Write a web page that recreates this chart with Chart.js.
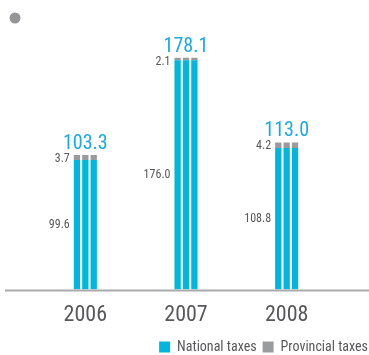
<!DOCTYPE html>
<html>
<head>
<meta charset="utf-8">
<script src="https://cdn.jsdelivr.net/npm/chart.js@4"></script>
<style>
  html, body { margin: 0; padding: 0; background: #fff; }
</style>
</head>
<body>
<canvas id="taxes" width="369" height="355"></canvas>
<script>
// tax revenue by year (stacked: national + provincial)
var years = ["2006", "2007", "2008"];
var nationalTaxes = [99.6, 176.0, 108.8];
var provincialTaxes = [3.7, 2.1, 4.2];
var totalTaxes = [103.3, 178.1, 113.0];

var cyan = "#00b6de";
var grey = "#9a9b9d";
var narrow = "'Roboto Condensed', 'Roboto', sans-serif";

// each bar is drawn as three thin stripes, one stack per stripe
var datasets = [];
["a", "b", "c"].forEach(function(s, i) {
  datasets.push({
    label: "National taxes",
    data: nationalTaxes,
    backgroundColor: cyan,
    stack: s
  });
  datasets.push({
    label: "Provincial taxes",
    data: provincialTaxes,
    backgroundColor: grey,
    stack: s
  });
});

// gray baseline across the full width, the dot, and the value labels
var decor = {
  id: "decor",
  afterDatasetsDraw: function(chart) {
    var ctx = chart.ctx;
    var y = chart.scales.y;
    var base = y.getPixelForValue(0);
    ctx.save();
    ctx.strokeStyle = "#a9aaac";
    ctx.lineWidth = 2;
    ctx.beginPath();
    ctx.moveTo(5, base + 1);
    ctx.lineTo(chart.width, base + 1);
    ctx.stroke();

    ctx.fillStyle = "#959599";
    ctx.beginPath();
    ctx.arc(15, 18, 5.5, 0, Math.PI * 2);
    ctx.fill();

    var first = chart.getDatasetMeta(0);
    var firstTop = chart.getDatasetMeta(1);
    var last = chart.getDatasetMeta(5);
    years.forEach(function(yr, i) {
      var left = first.data[i].x - first.data[i].width / 2;
      var mid = (first.data[i].x + last.data[i].x) / 2;
      var natY = (y.getPixelForValue(0) + y.getPixelForValue(nationalTaxes[i])) / 2;
      var topY = y.getPixelForValue(totalTaxes[i]);

      ctx.fillStyle = "#58585a";
      ctx.font = "12px " + narrow;
      ctx.textAlign = "right";
      ctx.textBaseline = "middle";
      ctx.fillText(nationalTaxes[i].toFixed(1), left - 4, natY);
      ctx.fillText(provincialTaxes[i].toFixed(1), left - 4, topY + 4);

      ctx.fillStyle = "#1aa9e3";
      ctx.font = "20px " + narrow;
      ctx.textAlign = "center";
      ctx.textBaseline = "alphabetic";
      ctx.fillText(totalTaxes[i].toFixed(1), mid, firstTop.data[i].y - 6);
    });
    ctx.restore();
  }
};

new Chart(document.getElementById("taxes"), {
  type: "bar",
  data: { labels: years, datasets: datasets },
  options: {
    responsive: false,
    animation: false,
    devicePixelRatio: 1,
    categoryPercentage: 0.25,
    barPercentage: 0.75,
    layout: { padding: { top: 20, left: 35, right: -5, bottom: -9 } },
    scales: {
      x: {
        stacked: true,
        grid: { display: false },
        border: { display: false },
        ticks: {
          color: "#58585a",
          padding: 5,
          font: { family: narrow, size: 22 }
        }
      },
      y: {
        stacked: true,
        display: false,
        min: 0,
        max: 207
      },
      // empty right-hand gutter so the plot ends short of the legend edge
      gutter: {
        type: "linear",
        position: "right",
        grid: { display: false },
        border: { display: false },
        ticks: { display: false },
        afterFit: function(scale) { scale.width = 37; }
      }
    },
    plugins: {
      tooltip: { enabled: false },
      legend: {
        position: "bottom",
        align: "end",
        labels: {
          color: "#58585a",
          boxWidth: 11,
          boxHeight: 11,
          padding: 6,
          font: { family: narrow, size: 14 },
          filter: function(item) { return item.datasetIndex < 2; }
        }
      }
    }
  },
  plugins: [decor]
});
</script>
</body>
</html>
